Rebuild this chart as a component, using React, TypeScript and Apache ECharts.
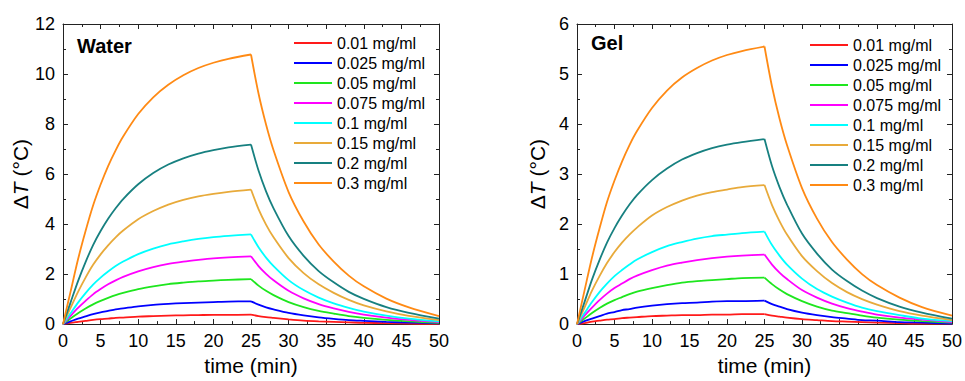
import React, { useEffect, useRef } from "react";
import * as echarts from "echarts";

const FONT = "'Liberation Sans', Arial, sans-serif";

const concentrations = ["0.01 mg/ml", "0.025 mg/ml", "0.05 mg/ml", "0.075 mg/ml", "0.1 mg/ml", "0.15 mg/ml", "0.2 mg/ml", "0.3 mg/ml"];
const colors = ["#ff1a1a", "#0000ff", "#1ee61e", "#ff00ff", "#00ffff", "#e8aa3a", "#178080", "#ff8a14"];

// time (min) – laser on (heating) and laser off (cooling)
const timeHeat = [0, 1, 2, 3, 4, 5, 6, 7, 8, 10, 12, 14, 16, 18, 20, 22, 25];
const timeCool = [25, 26, 27, 28, 30, 32, 34, 36, 38, 40, 43, 46, 50];

// Water, ΔT (°C)
const waterHeat = [
  [0, 0.05, 0.09, 0.13, 0.17, 0.20, 0.22, 0.25, 0.26, 0.30, 0.32, 0.34, 0.35, 0.36, 0.37, 0.37, 0.38],
  [0, 0.11, 0.22, 0.31, 0.40, 0.47, 0.53, 0.59, 0.63, 0.71, 0.77, 0.81, 0.84, 0.86, 0.88, 0.90, 0.91],
  [0, 0.22, 0.43, 0.62, 0.79, 0.93, 1.05, 1.16, 1.25, 1.40, 1.51, 1.60, 1.66, 1.71, 1.74, 1.77, 1.80],
  [0, 0.33, 0.65, 0.93, 1.19, 1.40, 1.59, 1.75, 1.89, 2.11, 2.28, 2.41, 2.50, 2.57, 2.63, 2.67, 2.71],
  [0, 0.43, 0.86, 1.24, 1.58, 1.86, 2.10, 2.32, 2.50, 2.80, 3.02, 3.19, 3.31, 3.41, 3.48, 3.53, 3.59],
  [0, 0.65, 1.29, 1.86, 2.37, 2.79, 3.15, 3.47, 3.74, 4.19, 4.52, 4.78, 4.97, 5.11, 5.21, 5.29, 5.38],
  [0, 0.86, 1.72, 2.48, 3.16, 3.72, 4.21, 4.63, 5.00, 5.59, 6.04, 6.38, 6.63, 6.82, 6.96, 7.07, 7.18],
  [0, 1.29, 2.59, 3.72, 4.74, 5.58, 6.32, 6.95, 7.50, 8.40, 9.07, 9.57, 9.95, 10.24, 10.45, 10.61, 10.78],
];
const waterCool = [
  [0.38, 0.32, 0.28, 0.25, 0.19, 0.14, 0.11, 0.09, 0.07, 0.05, 0.04, 0.02, 0.01],
  [0.91, 0.78, 0.67, 0.59, 0.45, 0.35, 0.27, 0.21, 0.16, 0.13, 0.09, 0.06, 0.03],
  [1.80, 1.54, 1.33, 1.16, 0.88, 0.68, 0.53, 0.42, 0.32, 0.25, 0.17, 0.11, 0.05],
  [2.71, 2.32, 2.01, 1.75, 1.33, 1.03, 0.80, 0.63, 0.49, 0.38, 0.26, 0.17, 0.08],
  [3.59, 3.07, 2.66, 2.32, 1.76, 1.36, 1.06, 0.83, 0.65, 0.50, 0.34, 0.22, 0.11],
  [5.38, 4.60, 3.98, 3.47, 2.64, 2.04, 1.59, 1.25, 0.97, 0.75, 0.51, 0.33, 0.16],
  [7.18, 6.14, 5.31, 4.63, 3.52, 2.73, 2.12, 1.67, 1.29, 1.01, 0.68, 0.45, 0.22],
  [10.78, 9.22, 7.98, 6.95, 5.28, 4.10, 3.18, 2.50, 1.94, 1.51, 1.02, 0.67, 0.32],
];

// Gel, ΔT (°C)
const gelHeat = [
  [0, 0.02, 0.05, 0.07, 0.09, 0.10, 0.12, 0.13, 0.14, 0.16, 0.17, 0.18, 0.18, 0.19, 0.19, 0.20, 0.20],
  [0, 0.06, 0.11, 0.16, 0.21, 0.24, 0.28, 0.30, 0.33, 0.37, 0.40, 0.42, 0.43, 0.45, 0.46, 0.46, 0.47],
  [0, 0.11, 0.22, 0.32, 0.41, 0.48, 0.54, 0.60, 0.65, 0.72, 0.78, 0.83, 0.86, 0.88, 0.90, 0.92, 0.93],
  [0, 0.17, 0.33, 0.48, 0.61, 0.72, 0.81, 0.90, 0.97, 1.08, 1.17, 1.23, 1.28, 1.32, 1.35, 1.37, 1.39],
  [0, 0.22, 0.44, 0.64, 0.81, 0.96, 1.08, 1.19, 1.29, 1.44, 1.56, 1.64, 1.71, 1.76, 1.79, 1.82, 1.85],
  [0, 0.33, 0.67, 0.96, 1.22, 1.44, 1.63, 1.79, 1.93, 2.17, 2.34, 2.47, 2.57, 2.64, 2.69, 2.74, 2.78],
  [0, 0.44, 0.89, 1.28, 1.63, 1.92, 2.17, 2.39, 2.58, 2.88, 3.11, 3.29, 3.42, 3.52, 3.59, 3.64, 3.70],
  [0, 0.67, 1.33, 1.91, 2.44, 2.87, 3.25, 3.58, 3.86, 4.32, 4.67, 4.93, 5.12, 5.27, 5.38, 5.46, 5.55],
];
const gelCool = [
  [0.20, 0.17, 0.15, 0.13, 0.10, 0.08, 0.06, 0.05, 0.04, 0.03, 0.02, 0.01, 0.01],
  [0.47, 0.40, 0.35, 0.30, 0.23, 0.18, 0.14, 0.11, 0.08, 0.07, 0.04, 0.03, 0.01],
  [0.93, 0.80, 0.69, 0.60, 0.46, 0.35, 0.27, 0.22, 0.17, 0.13, 0.09, 0.06, 0.03],
  [1.39, 1.19, 1.03, 0.90, 0.68, 0.53, 0.41, 0.32, 0.25, 0.19, 0.13, 0.09, 0.04],
  [1.85, 1.58, 1.37, 1.19, 0.91, 0.70, 0.55, 0.43, 0.33, 0.26, 0.18, 0.11, 0.06],
  [2.78, 2.38, 2.06, 1.79, 1.36, 1.06, 0.82, 0.64, 0.50, 0.39, 0.26, 0.17, 0.08],
  [3.70, 3.16, 2.74, 2.39, 1.81, 1.41, 1.09, 0.86, 0.67, 0.52, 0.35, 0.23, 0.11],
  [5.55, 4.75, 4.11, 3.58, 2.72, 2.11, 1.64, 1.29, 1.00, 0.78, 0.53, 0.34, 0.17],
];

const xTicks = { min: 0, max: 50, interval: 5 };
const yTicksWater = { min: 0, max: 12, interval: 2 };
const yTicksGel = { min: 0, max: 6, interval: 1 };

const AX = "#222";

function xAxes(gridIndex: number) {
  const common = {
    type: "value",
    gridIndex,
    min: xTicks.min,
    max: xTicks.max,
    interval: xTicks.interval,
    splitLine: { show: false },
    axisLine: { show: true, onZero: false, lineStyle: { color: AX, width: 1 } },
    axisTick: { show: true, inside: true, length: 5, lineStyle: { color: AX, width: 1 } },
    minorTick: { show: true, splitNumber: 2, length: 3, lineStyle: { color: AX, width: 1 } },
  };
  return [
    {
      ...common,
      position: "bottom",
      axisLabel: { show: true, fontSize: 18, color: "#000", fontFamily: FONT, margin: 8, showMinLabel: true, showMaxLabel: true },
      name: "time (min)",
      nameLocation: "middle",
      nameGap: 30,
      nameTextStyle: { fontSize: 21, color: "#000", fontFamily: FONT },
    },
    { ...common, position: "top", axisLabel: { show: false } },
  ];
}

function yAxes(gridIndex: number, t: { min: number; max: number; interval: number }) {
  const common = {
    type: "value",
    gridIndex,
    min: t.min,
    max: t.max,
    interval: t.interval,
    splitLine: { show: false },
    axisLine: { show: true, onZero: false, lineStyle: { color: AX, width: 1 } },
    axisTick: { show: true, inside: true, length: 5, lineStyle: { color: AX, width: 1 } },
    minorTick: { show: true, splitNumber: 2, length: 3, lineStyle: { color: AX, width: 1 } },
  };
  return [
    {
      ...common,
      position: "left",
      axisLabel: { show: true, fontSize: 18, color: "#000", fontFamily: FONT, margin: 8, showMinLabel: true, showMaxLabel: true },
      name: "{a|Δ}{b|T}{a| (°C)}",
      nameLocation: "middle",
      nameGap: 29,
      nameTextStyle: {
        color: "#000",
        rich: {
          a: { fontSize: 21, fontFamily: FONT, color: "#000" },
          b: { fontSize: 21, fontFamily: FONT, fontStyle: "italic", color: "#000" },
        },
      },
    },
    { ...common, position: "right", axisLabel: { show: false } },
  ];
}

function panelSeries(heat: number[][], cool: number[][], axisIndex: number) {
  const out: any[] = [];
  concentrations.forEach((name, i) => {
    const base = {
      type: "line",
      name,
      xAxisIndex: axisIndex,
      yAxisIndex: axisIndex,
      symbol: "none",
      showSymbol: false,
      smooth: 0.3,
      color: colors[i],
      itemStyle: { color: colors[i] },
      lineStyle: { color: colors[i], width: 1.8 },
      emphasis: { disabled: true },
      z: 2 + i,
    };
    out.push({ ...base, data: timeHeat.map((t, k) => [t, heat[i][k]]) });
    out.push({ ...base, data: timeCool.map((t, k) => [t, cool[i][k]]) });
  });
  return out;
}

export default function App() {
  const ref = useRef<HTMLDivElement>(null);
  useEffect(() => {
    if (!ref.current) return;
    const chart = echarts.init(ref.current, undefined, { renderer: "svg" });
    const legendCommon = {
      data: concentrations.map((n) => ({ name: n, icon: "rect" })),
      orient: "vertical",
      itemWidth: 38,
      itemHeight: 2,
      itemGap: 0,
      padding: 0,
      selectedMode: false,
      textStyle: { fontSize: 16, lineHeight: 20, fontFamily: FONT, color: "#000" },
    };
    chart.setOption({
      animation: false,
      backgroundColor: "#fff",
      textStyle: { fontFamily: FONT },
      grid: [
        { left: 63, top: 24, width: 376, height: 304, containLabel: false },
        { left: 577, top: 24, width: 376, height: 304, containLabel: false },
      ],
      xAxis: [...xAxes(0), ...xAxes(1)],
      yAxis: [...yAxes(0, yTicksWater), ...yAxes(1, yTicksGel)],
      legend: [
        { ...legendCommon, left: 294, top: 33 },
        { ...legendCommon, left: 810, top: 35 },
      ],
      graphic: [
        { type: "text", x: 77, y: 46, style: { text: "Water", font: `bold 20px ${FONT}`, fill: "#000", verticalAlign: "middle" } },
        { type: "text", x: 591, y: 43, style: { text: "Gel", font: `bold 20px ${FONT}`, fill: "#000", verticalAlign: "middle" } },
      ],
      series: [
        ...panelSeries(waterHeat, waterCool, 0),
        ...panelSeries(gelHeat, gelCool, 2),
      ],
    });
    return () => chart.dispose();
  }, []);
  return (
    <div
      ref={ref}
      style={{ position: "fixed", left: 0, top: 0, width: 965, height: 381, background: "#fff" }}
    />
  );
}
